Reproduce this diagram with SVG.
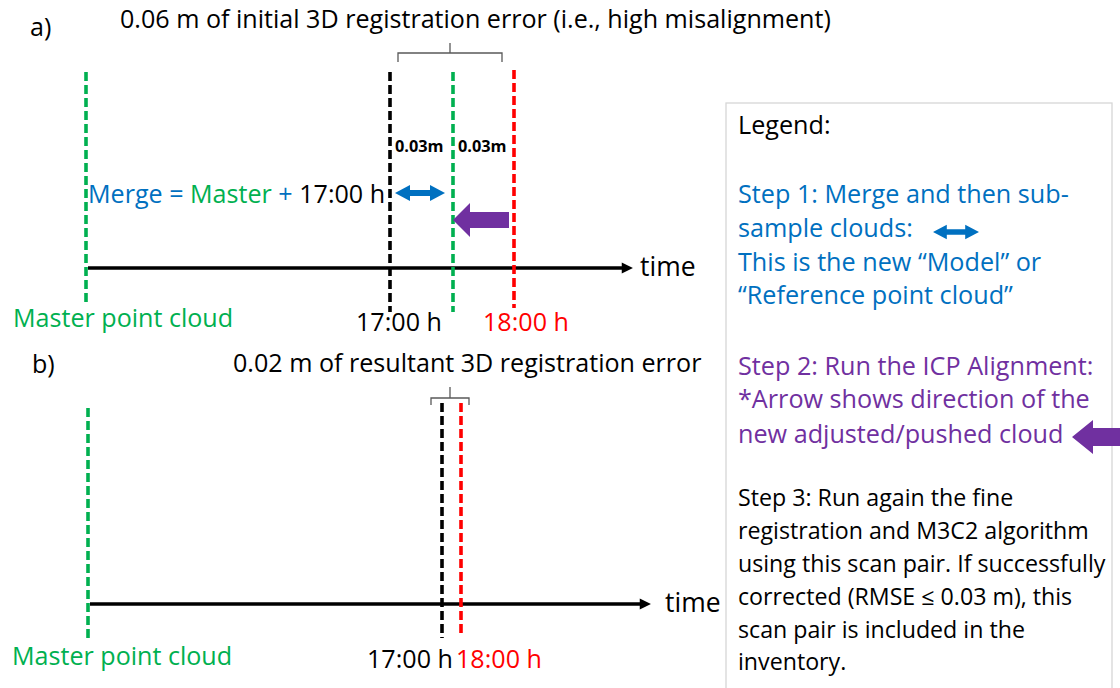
<svg xmlns="http://www.w3.org/2000/svg" width="1120" height="688" viewBox="0 0 1120 688">
  <style>
    text { font-family: "Open Sans", Lato, sans-serif; }
    .t24 { font-size: 25.1px; fill: #000; }
    .t22 { font-size: 25.1px; }
    .tm { font-size: 26.5px; fill: #000; }
    .lg { font-size: 25.2px; }
    .s3 { font-size: 23.2px; fill: #000; }
    .bold { font-size: 16.3px; font-weight: bold; fill: #000; }
    .dash { stroke-width: 3.6; stroke-dasharray: 9 4; fill: none; }
    .axis { stroke: #000; stroke-width: 3.5; fill: none; }
    .brace { stroke: #595959; stroke-width: 1.3; fill: none; }
    .blue { fill: #0070C0; }
    .green { fill: #00B050; }
    .red { fill: #FF0000; }
    .purple { fill: #7030A0; }
  </style>
  <defs>
    <marker id="axisHead" viewBox="0 0 10 10" refX="2" refY="5" markerWidth="3.6" markerHeight="3.2" markerUnits="strokeWidth" orient="auto">
      <path d="M0,0 L10,5 L0,10 Z" fill="#000"/>
    </marker>
    <!-- double-headed blue arrow, centred on origin -->
    <path id="dblArrow" d="M-25,0 L-10,-8 L-10,-3 L10,-3 L10,-8 L25,0 L10,8 L10,3 L-10,3 L-10,8 Z" fill="#0070C0"/>
    <!-- fat purple arrow pointing left, tip at origin -->
    <path id="pushArrow" d="M0,0 L17,-17 L17,-8 L56,-8 L56,8 L17,8 L17,17 Z" fill="#7030A0"/>
  </defs>

  <!-- panel a -->
  <g id="panel-a">
    <text class="t24" x="30" y="36">a)</text>
    <text class="t24" x="120" y="28">0.06 m of initial 3D registration error (i.e., high misalignment)</text>
    <path class="brace" d="M398,62 L398,53 L450,53 L450,43 M450,53 L502,53 L502,62"/>
  </g>

  <g id="connectors-a">
    <line class="axis" x1="88" y1="268" x2="624" y2="268" marker-end="url(#axisHead)"/>
  </g>

  <g id="master-a">
    <line class="dash" stroke="#00B050" x1="86" y1="72" x2="86" y2="306"/>
    <text class="t22 green" x="13" y="327">Master point cloud</text>
  </g>
  <g id="scan-1700-a">
    <line class="dash" stroke="#000" x1="390" y1="72" x2="390" y2="312"/>
    <text class="t22" x="356" y="331" fill="#000">17:00 h</text>
  </g>
  <g id="merge-a">
    <line class="dash" stroke="#00B050" x1="453" y1="72" x2="453" y2="312"/>
  </g>
  <g id="scan-1800-a">
    <line class="dash" stroke="#FF0000" x1="514" y1="70" x2="514" y2="308"/>
    <text class="t22 red" x="483" y="331">18:00 h</text>
  </g>
  <g id="labels-a">
    <text class="bold" x="395" y="152">0.03m</text>
    <text class="bold" x="458" y="152">0.03m</text>
    <text class="t22" x="88" y="203"><tspan class="blue">Merge = </tspan><tspan class="green">Master</tspan><tspan class="blue"> + </tspan><tspan fill="#000">17:00 h</tspan></text>
    <use href="#dblArrow" x="420" y="193"/>
    <use href="#pushArrow" x="453" y="220"/>
  </g>

  <!-- panel b -->
  <g id="panel-b">
    <text class="t24" x="32" y="373">b)</text>
    <text class="t24" x="233" y="372">0.02 m of resultant 3D registration error</text>
    <path class="brace" d="M431,405 L431,398 L450,398 L450,387 M450,398 L469,398 L469,405"/>
  </g>

  <g id="connectors-b">
    <line class="axis" x1="90" y1="604" x2="642" y2="604" marker-end="url(#axisHead)"/>
  </g>

  <g id="master-b">
    <line class="dash" stroke="#00B050" x1="88" y1="408" x2="88" y2="642"/>
    <text class="t22 green" x="12" y="665">Master point cloud</text>
  </g>
  <g id="scan-1700-b">
    <line class="dash" stroke="#000" x1="442" y1="403" x2="442" y2="638"/>
    <text class="t22" x="367" y="668" fill="#000">17:00 h</text>
  </g>
  <g id="scan-1800-b">
    <line class="dash" stroke="#FF0000" x1="461" y1="403" x2="461" y2="636"/>
    <text class="t22 red" x="456" y="668">18:00 h</text>
  </g>

  <g id="time-labels">
    <text class="tm" x="640" y="276">time</text>
    <text class="tm" x="665" y="612">time</text>
  </g>

  <!-- legend -->
  <g id="legend">
    <rect x="726" y="103" width="386" height="590" fill="#fff" stroke="#d6d6d6" stroke-width="1.3"/>
    <text class="lg" x="738" y="134" fill="#000">Legend:</text>
    <text class="lg blue" x="738" y="203">Step 1: Merge and then sub-</text>
    <text class="lg blue" x="738" y="237">sample clouds:</text>
    <text class="lg blue" x="738" y="271">This is the new “Model” or</text>
    <text class="lg blue" x="738" y="304">“Reference point cloud”</text>
    <use href="#dblArrow" transform="translate(956,232) scale(0.92)"/>
    <text class="lg purple" x="738" y="375">Step 2: Run the ICP Alignment:</text>
    <text class="lg purple" x="738" y="408">*Arrow shows direction of the</text>
    <text class="lg purple" x="738" y="443">new adjusted/pushed cloud</text>
    <path d="M1072,437 L1093,420 L1093,428 L1122,428 L1122,446 L1093,446 L1093,454 Z" fill="#7030A0"/>
    <text class="s3" x="738" y="506">Step 3: Run again the fine</text>
    <text class="s3" x="738" y="539">registration and M3C2 algorithm</text>
    <text class="s3" x="738" y="572">using this scan pair. If successfully</text>
    <text class="s3" x="738" y="605">corrected (RMSE ≤ 0.03 m), this</text>
    <text class="s3" x="738" y="638">scan pair is included in the</text>
    <text class="s3" x="738" y="670">inventory.</text>
  </g>
</svg>
